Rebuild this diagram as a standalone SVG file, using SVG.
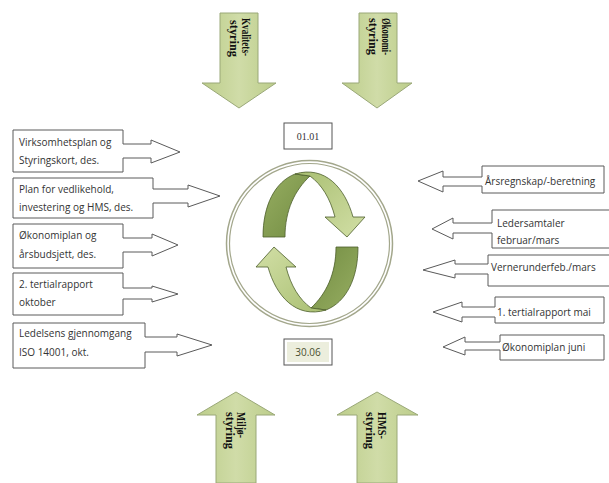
<svg xmlns="http://www.w3.org/2000/svg" width="609" height="483" viewBox="0 0 609 483">
<defs>
<linearGradient id="gArrow" x1="0" y1="0" x2="1" y2="0">
<stop offset="0" stop-color="#bccd8a"/><stop offset="0.5" stop-color="#d0dca8"/><stop offset="1" stop-color="#bccd8a"/>
</linearGradient>
<linearGradient id="gDark" x1="0" y1="0" x2="1" y2="1">
<stop offset="0" stop-color="#97ae62"/><stop offset="1" stop-color="#728c42"/>
</linearGradient>
<linearGradient id="gLight" x1="0" y1="0" x2="1" y2="1">
<stop offset="0" stop-color="#a9bf72"/><stop offset="1" stop-color="#d2dfa6"/>
</linearGradient>
</defs>
<style>
.big{fill:url(#gArrow);stroke:#9aa878;stroke-width:1}
.bt{font-family:"Liberation Serif",serif;font-weight:bold;font-size:11.5px;fill:#111}
.call{fill:#fff;stroke:#5a5a5a;stroke-width:1}
.ct{font-family:"Open Sans","Liberation Sans",sans-serif;font-size:10px;fill:#333}
.date{fill:#fff;stroke:#555;stroke-width:1}
.rib{stroke:#4d5e2c;stroke-width:0.8}
</style>

<g id="kvalitet">
<path class="big" d="M220,13 H258 V83 H276 L239,108 L202,83 H220 Z"/>
<text class="bt" transform="translate(242,18) rotate(90)" textLength="38" lengthAdjust="spacingAndGlyphs">Kvalitets-</text>
<text class="bt" transform="translate(230,20) rotate(90)" textLength="37" lengthAdjust="spacingAndGlyphs">styring</text>
</g>
<g id="okonomi">
<path class="big" d="M359,13 H397 V83 H412 L377,108 L342,83 H359 Z"/>
<text class="bt" transform="translate(382,18) rotate(90)" textLength="37" lengthAdjust="spacingAndGlyphs">Økonomi-</text>
<text class="bt" transform="translate(369,18) rotate(90)" textLength="37" lengthAdjust="spacingAndGlyphs">styring</text>
</g>
<g id="miljo">
<path class="big" d="M216,483 V415 H197 L236,392 L275,415 H256 V483 Z"/>
<text class="bt" transform="translate(237,412) rotate(90)" textLength="26" lengthAdjust="spacingAndGlyphs">Miljø-</text>
<text class="bt" transform="translate(226,412) rotate(90)" textLength="37" lengthAdjust="spacingAndGlyphs">styring</text>
</g>
<g id="hms">
<path class="big" d="M357,483 V415 H337 L377,392 L418,415 H397 V483 Z"/>
<text class="bt" transform="translate(378,412) rotate(90)" textLength="27" lengthAdjust="spacingAndGlyphs">HMS-</text>
<text class="bt" transform="translate(366,412) rotate(90)" textLength="37" lengthAdjust="spacingAndGlyphs">styring</text>
</g>

<g id="syklus">
<circle cx="309.5" cy="243.5" r="83" fill="none" stroke="#a3a78c" stroke-width="1.5"/>
<circle cx="309.5" cy="243.5" r="80" fill="none" stroke="#a3a78c" stroke-width="1.2"/>
<g id="pil-ovre" class="rib">
<path fill="url(#gDark)" d="M263,237 C263,205 275,182 295,174 L310,176 C295,190 285,210 285,237 Z"/>
<path fill="url(#gLight)" d="M295,174 C325,165 345,188 353,217 H365 L347,237 L325,217 H335 C330,198 322,185 310,176 Z"/>
</g>
<g id="pil-nedre" class="rib" transform="rotate(180 310.5 242)">
<path fill="url(#gDark)" d="M263,237 C263,205 275,182 295,174 L310,176 C295,190 285,210 285,237 Z"/>
<path fill="url(#gLight)" d="M295,174 C325,165 345,188 353,217 H365 L347,237 L325,217 H335 C330,198 322,185 310,176 Z"/>
</g>
</g>

<g id="dato-0101">
<rect class="date" x="284" y="123" width="48" height="26"/>
<text x="308" y="140" text-anchor="middle" font-family="Liberation Serif,serif" font-size="10" fill="#333">01.01</text>
</g>
<g id="dato-3006">
<rect class="date" x="284" y="339" width="48" height="26"/>
<rect x="287" y="342" width="42" height="20" fill="#eceedd"/>
<text x="308" y="356" text-anchor="middle" font-family="Open Sans,Liberation Sans,sans-serif" font-size="10" fill="#4a4f30">30.06</text>
</g>

<g id="venstre1">
<path class="call" d="M13,130 H123 V144 H151 V140 L180,152 L151,163 V158 H123 V172 H13 Z"/>
<text class="ct" x="19" y="146">Virksomhetsplan og</text>
<text class="ct" x="19" y="164">Styringskort, des.</text>
</g>
<g id="venstre2">
<path class="call" d="M13,178 H153 V189 H188 V185 L220,196 L188,207 V203 H153 V218 H13 Z"/>
<text class="ct" x="19" y="193">Plan for vedlikehold,</text>
<text class="ct" x="19" y="211">investering og HMS, des.</text>
</g>
<g id="venstre3">
<path class="call" d="M13,224 H123 V238 H152 V234 L178,245 L152,256 V252 H123 V268 H13 Z"/>
<text class="ct" x="19" y="239">Økonomiplan og</text>
<text class="ct" x="19" y="258">årsbudsjett, des.</text>
</g>
<g id="venstre4">
<path class="call" d="M13,273 H123 V288 H152 V286 L178,294 L152,302 V299 H123 V315 H13 Z"/>
<text class="ct" x="19" y="288">2. tertialrapport</text>
<text class="ct" x="19" y="306">oktober</text>
</g>
<g id="venstre5">
<path class="call" d="M13,323 H145 V337 H177 V334 L212,345 L177,356 V352 H145 V368 H13 Z"/>
<text class="ct" x="19" y="337">Ledelsens gjennomgang</text>
<text class="ct" x="19" y="356">ISO 14001,  okt.</text>
</g>

<g id="hoyre1">
<path class="call" d="M604,166 H482 V177 H443 V171 L418,181 L443,192 V186 H482 V193 H604 Z"/>
<text class="ct" x="485" y="185">Årsregnskap/-beretning</text>
</g>
<g id="hoyre2">
<path class="call" d="M609,210 H492 V223 H453 V218 L432,229 L453,239 V233 H492 V248 H609"/>
<text class="ct" x="497" y="227">Ledersamtaler</text>
<text class="ct" x="497" y="244">februar/mars</text>
</g>
<g id="hoyre3">
<path class="call" d="M609,255 H488 V264 H455 V260 L423,270 L455,278 V274 H488 V286 H609"/>
<text class="ct" x="491" y="271">Vernerunderfeb./mars</text>
</g>
<g id="hoyre4">
<path class="call" d="M604,297 H495 V307 H462 V302 L433,312 L462,322 V317 H495 V323 H604 Z"/>
<text class="ct" x="497" y="316">1. tertialrapport mai</text>
</g>
<g id="hoyre5">
<path class="call" d="M604,335 H500 V342 H465 V337 L443,347 L465,355 V350 H500 V360 H604 Z"/>
<text class="ct" x="502" y="351">Økonomiplan juni</text>
</g>
</svg>
